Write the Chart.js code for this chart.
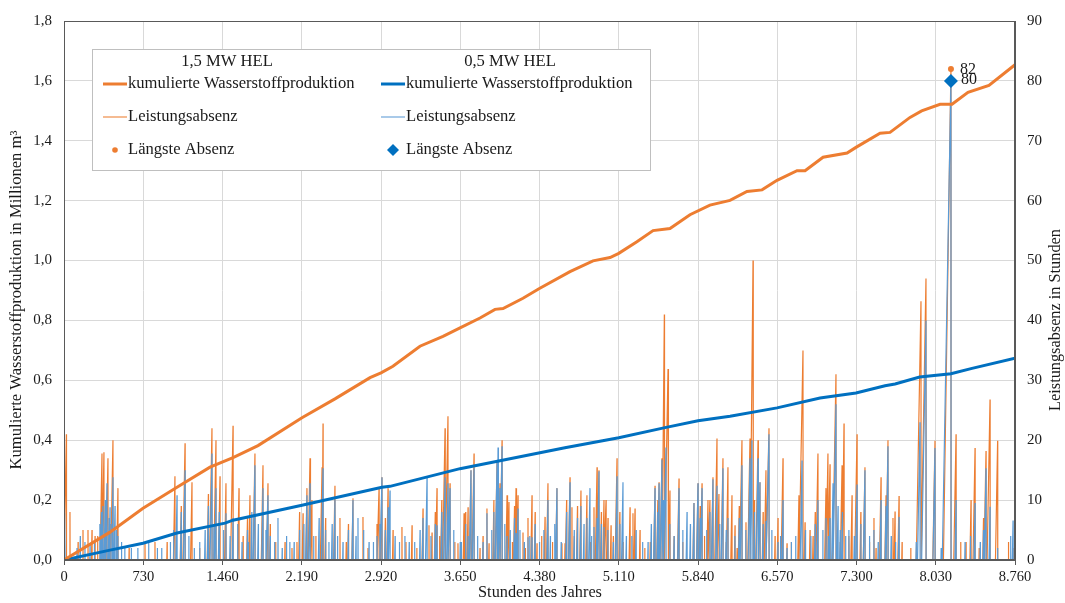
<!DOCTYPE html>
<html><head><meta charset="utf-8">
<script src="https://cdn.jsdelivr.net/npm/chart.js@4.4.1/dist/chart.umd.min.js"></script>
<style>html,body{margin:0;padding:0;background:#fff;}#wrap{width:1065px;height:603px;}</style>
</head><body><div id="wrap"><canvas id="c" width="1065" height="603"></canvas></div>
<script>
const FONT = "'Liberation Serif', 'DejaVu Serif', serif";

// ---- axis tick labels ----
const xTicks = [0,730,1460,2190,2920,3650,4380,5110,5840,6570,7300,8030,8760];
const yLeftTicks = [0,0.2,0.4,0.6,0.8,1.0,1.2,1.4,1.6,1.8];
const yRightTicks = [0,10,20,30,40,50,60,70,80,90];

// ---- cumulative hydrogen production (million m3) ----
const cumOrangeHours = [0,424,728,1041,1345,1557,1787,2192,2496,2819,2920,3030,3279,3491,3648,3832,3970,4044,4228,4375,4661,4873,5030,5110,5277,5426,5582,5766,5950,6135,6291,6430,6568,6752,6826,6992,7213,7295,7517,7609,7793,7900,8070,8180,8327,8520,8760];
const cumOrangeValues = [0,0.093,0.173,0.243,0.31,0.342,0.382,0.475,0.538,0.609,0.625,0.647,0.714,0.747,0.775,0.808,0.837,0.84,0.874,0.906,0.963,0.999,1.01,1.024,1.063,1.10,1.107,1.153,1.185,1.201,1.231,1.236,1.268,1.30,1.30,1.345,1.359,1.378,1.425,1.428,1.478,1.50,1.522,1.522,1.562,1.585,1.654];
const cumBlueHours = [0,424,728,1041,1483,1557,2192,2929,3003,3648,4614,5110,5536,5840,6135,6568,6964,7295,7563,7655,7882,8170,8364,8760];
const cumBlueValues = [0,0.033,0.056,0.09,0.123,0.133,0.183,0.243,0.246,0.305,0.375,0.408,0.442,0.465,0.48,0.508,0.541,0.558,0.582,0.588,0.611,0.622,0.64,0.674];

// ---- power absence (hours): peak hour and duration ----
const absOrangeHours = [22,55,130,175,221,258,286,310,350,368,405,430,451,497,600,746,838,950,1022,1080,1115,1179,1250,1330,1363,1400,1437,1492,1557,1612,1650,1690,1713,1759,1833,1879,1900,1950,2036,2100,2146,2170,2202,2238,2266,2284,2320,2377,2386,2410,2496,2542,2600,2620,2662,2754,2800,2883,2902,2929,2960,2985,3031,3113,3150,3206,3250,3307,3362,3390,3420,3436,3460,3480,3510,3537,3556,3600,3629,3685,3700,3722,3749,3777,3832,3860,3896,3915,3960,3989,4016,4035,4081,4099,4130,4150,4164,4182,4228,4250,4274,4311,4340,4357,4400,4431,4458,4500,4541,4587,4615,4630,4661,4679,4700,4730,4762,4817,4850,4882,4910,4928,4950,4974,4993,5011,5039,5060,5094,5120,5150,5214,5241,5260,5306,5350,5400,5444,5470,5481,5508,5530,5564,5582,5620,5665,5700,5803,5840,5860,5877,5900,5932,5950,5978,6015,6033,6070,6100,6116,6153,6181,6200,6220,6245,6282,6319,6347,6360,6393,6411,6440,6466,6494,6550,6577,6623,6660,6700,6770,6807,6826,6872,6900,6920,6945,7019,7037,7056,7111,7150,7167,7170,7185,7230,7259,7305,7340,7378,7420,7461,7480,7526,7572,7590,7636,7655,7692,7720,7800,7894,7940,8023,8100,8170,8217,8260,8309,8355,8392,8430,8470,8493,8530,8600,8700,8742];
const absOrangeValues = [21,8,3,5,5,5,4,4,17.8,18,17,6,20,12,2,3,3,3,14,9,19.5,13,2,11,22,20,14,12.8,22.4,12,4,7,10.8,17.8,15.8,12.8,6,3,3,2,3,8,7.8,12,17,10,4,15.5,22.8,7,12.4,7,3,6,10.3,7.2,2,6,12,13.8,7,12,5,5.5,3,5.8,2,8.6,5.8,4.6,8,12,4,10,22,24,12.8,3,2.8,7.8,8,8.8,15,17.8,2,4,8.6,2.8,10,16.6,12.8,20,10.8,9.7,3,9,12,10.8,4.6,2,7,10.8,8,2.8,4,7.2,12.8,3,12,2.8,2.8,10,13.8,8.8,4,9,11.6,10.8,3,8.8,15.5,15,8,10,10,7,5.8,4,17,8,3,8.8,7.8,8.6,5,2,3,12.4,10,13,17,41,31.9,11.6,4,13.6,3,9.5,12.8,9,12.8,4,10,10,13.8,20.3,11,17,3,15.5,10.8,5.8,2,9,20,6.3,20.3,50,10,20,13,8,15,22,4,7,17,2.8,3,10.8,35,6.3,5,4,8,17.8,12,17.8,16,31,3,15.8,10,22.8,4,10.8,21,8,15.5,3,7,2,13.8,10.8,20,7,8.1,10.7,3,2,43.2,47,19.9,2,82,21,3,3,10,18.7,2,7,18.2,26.8,19.9,3,2,13];
const absBlueHours = [9,120,150,193,240,280,330,345,359,380,396,415,424,440,451,470,485,497,530,560,620,680,780,860,900,980,1010,1041,1080,1115,1150,1200,1250,1300,1330,1363,1380,1400,1430,1470,1492,1530,1557,1600,1640,1690,1700,1730,1759,1790,1833,1860,1879,1900,1940,1971,2010,2050,2080,2120,2170,2210,2238,2266,2300,2350,2386,2410,2440,2470,2496,2520,2570,2620,2662,2690,2708,2760,2810,2850,2883,2910,2929,2960,2985,3003,3050,3090,3140,3180,3230,3280,3307,3344,3380,3420,3436,3480,3510,3537,3556,3590,3650,3660,3700,3722,3749,3777,3810,3860,3896,3940,3960,3989,3998,4016,4035,4060,4081,4110,4150,4164,4182,4200,4240,4274,4290,4311,4340,4380,4420,4458,4480,4520,4541,4580,4630,4661,4700,4730,4762,4790,4817,4845,4860,4882,4910,4928,4950,4974,5010,5060,5094,5120,5149,5180,5230,5270,5330,5380,5410,5444,5470,5481,5508,5520,5545,5580,5620,5665,5700,5739,5770,5803,5840,5860,5877,5920,5950,5978,6015,6040,6070,6100,6116,6180,6220,6245,6280,6319,6337,6360,6393,6411,6440,6466,6494,6520,6577,6600,6623,6660,6700,6740,6798,6830,6880,6920,6945,6990,7019,7040,7056,7084,7111,7130,7150,7170,7200,7230,7280,7305,7340,7378,7420,7460,7500,7526,7572,7590,7620,7660,7692,7850,7885,7940,8023,8080,8170,8217,8300,8350,8392,8440,8470,8493,8530,8600,8720,8742];
const absBlueValues = [7.8,2,4,3,2.5,3,6,8,9,10,12.8,7,8.8,6,13.8,9,5,4,3,2,2,2,3,2,2,3,5,10.8,8,15,4,2,3,5,9,17.8,6,12,8,5,7.8,4,7,6,3,5,3,8,15.8,6,12,5,10.8,4,3,7,2,4,3,3,5,6,10.8,12.8,4,7,15.3,5,3,6,10,4,3,5,10,4,7,5,3,3,4,6,13.8,5,8.8,11.6,4,3,4,3,3,5,7,13.8,4,6,5.8,8,13.8,12.8,12,5,3,3,6,4,15,15.3,4,3,7.8,5,8,16.3,18.8,12,19,6,4,5,7,4.5,8.6,5,3,3.8,4,3.8,6,3,5,10,4,6,12,3,8,13,5,7,9,6,7,12,4,5.5,7,14.8,6,5.5,5,3,14,6,13,4,4,5,3,3,6,12,8,12.8,16.8,10,18.8,6,4,12,5,8,6,9.5,12.8,7,12,5,8,13.5,12.4,6,15.3,5,7,4,7,15.8,5,17,20,8,17,13,6,6.5,21,5,3,4,10,2,3,4,16.6,5,4,6,10,5,7,4,7,12.8,26,9,5,8,4,5,4,12.6,6,15,4,5,3,10,9,19,4,3,7.2,3,23,40,18.7,2,80,10,3,4,9.5,3,5,15.3,8.9,2,4,6.6];

// ---- longest absence markers ----
const longestHour = [8170];
const longestOrange = [82];
const longestBlue = [80];

const C_OR = '#ED7D31', C_BL = '#0070C0', C_BL_L = '#5B9BD5';

function pairs(xs, ys){ return xs.map((x,i)=>({x:x, y:ys[i]})); }
function spikes(hours, vals){
  const idx = hours.map((h,i)=>i).sort((a,b)=>hours[a]-hours[b]);
  const pts=[{x:0,y:0}]; let prev=0;
  for(const i of idx){
    const h=hours[i], v=vals[i];
    const s=Math.min(Math.max(h-v, prev), h);
    pts.push({x:s,y:0},{x:h,y:v},{x:h+1,y:0});
    prev=h+1;
  }
  pts.push({x:8760,y:0});
  return pts;
}
function deNum(v){ return String(v).replace(/\B(?=(\d{3})+(?!\d))/g,'.'); }

const TXT = '#1a1a1a';
const overlay = {
  id:'overlay',
  afterDraw(chart){
    const ctx=chart.ctx, a=chart.chartArea;
    ctx.save();
    ctx.strokeStyle='#595959'; ctx.lineWidth=1;
    ctx.strokeRect(Math.round(a.left)+0.5, Math.round(a.top)+0.5, Math.round(a.right-a.left)-1, Math.round(a.bottom-a.top)-1);
    ctx.fillStyle=TXT;
    ctx.font='16.3px '+FONT; ctx.textAlign='center'; ctx.textBaseline='middle';
    ctx.fillText('Stunden des Jahres', 540, 593);
    ctx.save(); ctx.translate(17,300); ctx.rotate(-Math.PI/2);
    ctx.font='16.6px '+FONT;
    ctx.fillText('Kumulierte Wasserstoffproduktion in Millionen m³',0,0); ctx.restore();
    ctx.save(); ctx.translate(1056,320); ctx.rotate(-Math.PI/2);
    ctx.font='16.3px '+FONT;
    ctx.fillText('Leistungsabsenz in Stunden',0,0); ctx.restore();
    const xs=chart.scales.x, y2=chart.scales.y2;
    const mx=xs.getPixelForValue(longestHour[0]);
    ctx.textAlign='left'; ctx.font='16px '+FONT;
    ctx.fillText(String(longestOrange[0]), mx+9, y2.getPixelForValue(longestOrange[0])+1);
    ctx.fillText(String(longestBlue[0]), mx+10, y2.getPixelForValue(longestBlue[0])-1);
    // legend box
    const L=92,T=49,R=650,B=170;
    ctx.fillStyle='#fff'; ctx.fillRect(L,T,R-L,B-T);
    ctx.strokeStyle='#BFBFBF'; ctx.strokeRect(L+0.5,T+0.5,R-L,B-T);
    ctx.fillStyle=TXT; ctx.textAlign='center'; ctx.font='16.6px '+FONT;
    ctx.fillText('1,5 MW HEL', 227, 62);
    ctx.fillText('0,5 MW HEL', 510, 62);
    const cols=[{x:103,c1:C_OR,c2:C_OR,marker:'dot'},{x:381,c1:C_BL,c2:C_BL_L,marker:'dia'}];
    const rows=[84,117,150];
    const texts=['kumulierte Wasserstoffproduktion','Leistungsabsenz','Längste Absenz'];
    for(const col of cols){
      ctx.strokeStyle=col.c1; ctx.lineWidth=3; ctx.beginPath(); ctx.moveTo(col.x,rows[0]); ctx.lineTo(col.x+24,rows[0]); ctx.stroke();
      ctx.globalAlpha=0.7; ctx.strokeStyle=col.c2; ctx.lineWidth=1.5; ctx.beginPath(); ctx.moveTo(col.x,rows[1]); ctx.lineTo(col.x+24,rows[1]); ctx.stroke(); ctx.globalAlpha=1;
      ctx.fillStyle=col.c1;
      if(col.marker==='dot'){ ctx.beginPath(); ctx.arc(col.x+12,rows[2],2.8,0,Math.PI*2); ctx.fill(); }
      else { ctx.beginPath(); ctx.moveTo(col.x+12,rows[2]-6); ctx.lineTo(col.x+18,rows[2]); ctx.lineTo(col.x+12,rows[2]+6); ctx.lineTo(col.x+6,rows[2]); ctx.closePath(); ctx.fill(); }
      ctx.fillStyle=TXT; ctx.textAlign='left';
      for(let r=0;r<3;r++) ctx.fillText(texts[r], col.x+25, rows[r]);
    }
    ctx.restore();
  }
};

new Chart(document.getElementById('c'), {
  type:'line',
  data:{ datasets:[
    {label:'Längste Absenz 1,5 MW', data:pairs(longestHour,longestOrange), yAxisID:'y2', showLine:false, pointStyle:'circle', pointRadius:3, backgroundColor:C_OR, borderColor:C_OR, borderWidth:0, order:0},
    {label:'Längste Absenz 0,5 MW', data:pairs(longestHour,longestBlue), yAxisID:'y2', showLine:false, pointStyle:'rectRot', pointRadius:7, backgroundColor:C_BL, borderColor:C_BL, borderWidth:0, order:0},
    {label:'kumulierte 1,5', data:pairs(cumOrangeHours,cumOrangeValues), yAxisID:'y', borderColor:C_OR, borderWidth:3, pointRadius:0, tension:0, order:1},
    {label:'kumulierte 0,5', data:pairs(cumBlueHours,cumBlueValues), yAxisID:'y', borderColor:C_BL, borderWidth:3, pointRadius:0, tension:0, order:1},
    {label:'Absenz 0,5', data:spikes(absBlueHours,absBlueValues), yAxisID:'y2', borderColor:C_BL_L, borderWidth:1.2, pointRadius:0, tension:0, order:2},
    {label:'Absenz 1,5', data:spikes(absOrangeHours,absOrangeValues), yAxisID:'y2', borderColor:C_OR, borderWidth:1.2, pointRadius:0, tension:0, order:3}
  ]},
  options:{
    responsive:false, animation:false, devicePixelRatio:1,
    layout:{padding:{top:18,left:0,right:0,bottom:0}},
    plugins:{legend:{display:false}, tooltip:{enabled:false}},
    scales:{
      x:{type:'linear', min:0, max:8760,
        afterBuildTicks(s){ s.ticks=xTicks.map(v=>({value:v})); },
        afterFit(s){ s.height=43; },
        ticks:{callback:v=>deNum(v), font:{family:FONT,size:14.5}, color:TXT, padding:3, maxRotation:0, autoSkip:false},
        grid:{color:'#D9D9D9', tickColor:'#595959', tickLength:5},
        border:{display:true,color:'#595959'}
      },
      y:{position:'left', min:0, max:1.8,
        afterBuildTicks(s){ s.ticks=yLeftTicks.map(v=>({value:v})); },
        afterFit(s){ s.width=64; },
        ticks:{callback:v=>v.toFixed(1).replace('.',','), font:{family:FONT,size:15}, color:TXT, padding:12},
        grid:{color:'#D9D9D9', drawTicks:false},
        border:{display:true,color:'#595959'}
      },
      y2:{position:'right', min:0, max:90,
        afterBuildTicks(s){ s.ticks=yRightTicks.map(v=>({value:v})); },
        afterFit(s){ s.width=50; },
        ticks:{callback:v=>String(v), font:{family:FONT,size:15}, color:TXT, padding:12},
        grid:{display:false, drawTicks:false},
        border:{display:true,color:'#595959'}
      }
    }
  },
  plugins:[overlay]
});
</script>
</body></html>
